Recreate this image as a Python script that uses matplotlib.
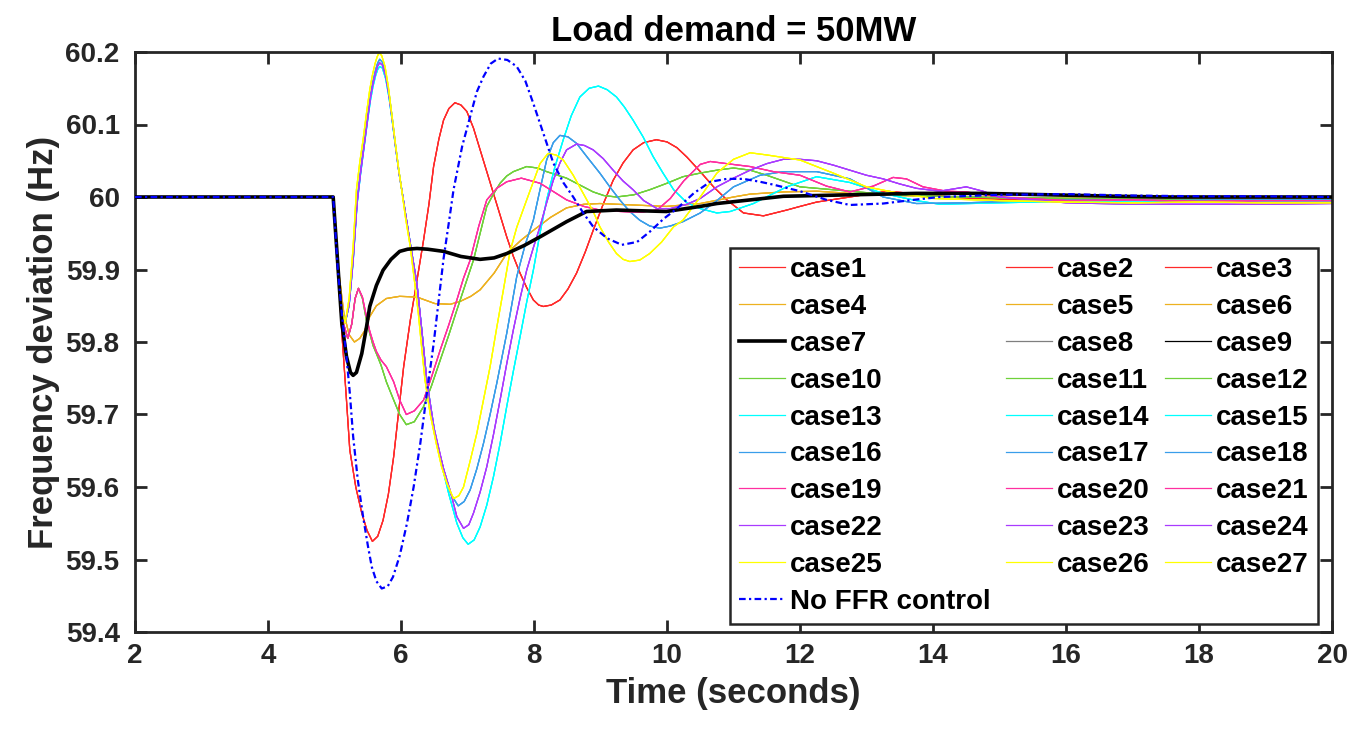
import matplotlib
matplotlib.use('Agg')
import matplotlib.pyplot as plt

plt.rcParams['font.family'] = ['Liberation Sans', 'DejaVu Sans']
plt.rcParams['font.weight'] = 'bold'

# ---- data (time in s, frequency in Hz) ----
t_red = [2.0, 4.98, 5.05, 5.12, 5.18, 5.23, 5.32, 5.41, 5.49, 5.57, 5.65, 5.73, 5.81, 5.89, 5.96,
         6.04, 6.14, 6.24, 6.34, 6.42, 6.49, 6.57, 6.64, 6.72, 6.81, 6.9, 6.99, 7.09, 7.19, 7.29,
         7.39, 7.49, 7.59, 7.69, 7.79, 7.89, 7.99, 8.07, 8.14, 8.26, 8.39, 8.51, 8.64, 8.77, 8.89,
         9.04, 9.19, 9.34, 9.49, 9.65, 9.84, 10.0, 10.15, 10.3, 10.5, 10.7, 10.9, 11.15, 11.45, 11.8,
         12.0, 12.25, 12.75, 13.3, 13.8, 14.5, 15.5, 16.5, 17.5, 18.5, 19.5, 20.0]
f_red = [60.0, 60.0, 59.9, 59.8, 59.72, 59.651, 59.6, 59.564, 59.54, 59.525, 59.532, 59.554, 59.59, 59.642, 59.70,
         59.766, 59.83, 59.885, 59.941, 59.99, 60.042, 60.08, 60.106, 60.122, 60.13, 60.127, 60.118, 60.095, 60.065, 60.035,
         60.005, 59.975, 59.945, 59.918, 59.895, 59.875, 59.858, 59.851, 59.849, 59.851, 59.858, 59.873, 59.895, 59.924, 59.954,
         59.99, 60.023, 60.047, 60.065, 60.075, 60.079, 60.076, 60.068, 60.055, 60.035, 60.014, 59.996, 59.978, 59.974, 59.982,
         59.987, 59.993, 60.0, 60.008, 60.004, 59.998, 59.996, 59.995, 59.996, 59.995, 59.994, 59.994]

t_orange = [2.0, 4.98, 5.06, 5.14, 5.22, 5.3, 5.38, 5.45, 5.53, 5.63, 5.78, 5.98, 6.24, 6.51, 6.74, 6.89,
            7.05, 7.19, 7.4, 7.59, 7.8, 7.99, 8.25, 8.49, 8.75, 8.99, 9.49, 9.99, 10.5, 11.0, 11.25,
            11.75, 12.25, 12.75, 13.5, 14.5, 15.5, 16.5, 17.5, 18.5, 19.5, 20.0]
f_orange = [60.0, 60.0, 59.9, 59.84, 59.81, 59.80, 59.805, 59.815, 59.835, 59.85, 59.86, 59.863, 59.862, 59.853, 59.852, 59.856,
            59.863, 59.872, 59.895, 59.922, 59.94, 59.954, 59.972, 59.985, 59.99, 59.991, 59.989, 59.987, 59.991, 60.0, 60.004,
            60.007, 60.008, 60.005, 60.002, 60.0, 59.999, 59.998, 59.997, 59.998, 59.997, 59.997]

t_black = [2.0, 4.98, 5.04, 5.11, 5.18, 5.24, 5.28, 5.33, 5.41, 5.48, 5.53, 5.63, 5.73, 5.85, 5.98, 6.1,
           6.24, 6.4, 6.64, 6.9, 7.19, 7.4, 7.59, 7.85, 8.09, 8.3, 8.49, 8.79, 9.24, 9.6, 9.99, 10.5,
           10.75, 11.25, 11.75, 12.75, 13.75, 14.75, 15.76, 16.76, 17.5, 18.5, 19.3, 20.0]
f_black = [60.0, 60.0, 59.92, 59.826, 59.78, 59.758, 59.754, 59.758, 59.784, 59.82, 59.849, 59.878, 59.899, 59.914, 59.925, 59.928,
           59.929, 59.928, 59.925, 59.918, 59.914, 59.916, 59.922, 59.933, 59.945, 59.956, 59.966, 59.98, 59.982, 59.981, 59.98, 59.987,
           59.991, 59.996, 60.001, 60.003, 60.005, 60.005, 60.003, 60.001, 60.0, 60.0, 60.0, 60.0]

t_green = [2.0, 4.98, 5.05, 5.12, 5.2, 5.26, 5.31, 5.36, 5.42, 5.48, 5.53, 5.58, 5.63, 5.7, 5.78, 5.89,
           5.98, 6.08, 6.2, 6.34, 6.46, 6.59, 6.72, 6.84, 6.97, 7.09, 7.19, 7.29, 7.39, 7.49, 7.59,
           7.69, 7.89, 8.05, 8.19, 8.49, 8.7, 8.89, 9.05, 9.24, 9.5, 9.74, 10.0, 10.24, 10.5, 10.75,
           11.0, 11.25, 11.5, 11.75, 12.0, 12.5, 13.0, 13.5, 14.0, 15.0, 16.0, 17.0, 18.0, 19.0, 20.0]
f_green = [60.0, 60.0, 59.9, 59.83, 59.805, 59.825, 59.86, 59.874, 59.86, 59.83, 59.812, 59.795, 59.784, 59.768, 59.745, 59.72,
           59.70, 59.686, 59.69, 59.711, 59.74, 59.775, 59.81, 59.844, 59.88, 59.913, 59.95, 59.987, 60.004, 60.019, 60.029,
           60.035, 60.042, 60.04, 60.035, 60.026, 60.016, 60.007, 60.002, 60.0, 60.003, 60.01, 60.019, 60.028, 60.033, 60.037,
           60.04, 60.037, 60.03, 60.022, 60.014, 60.01, 60.006, 60.003, 60.001, 59.999, 59.998, 59.997, 59.996, 59.996, 59.996]

t_cyan = [2.0, 4.98, 5.05, 5.1, 5.16, 5.22, 5.28, 5.34, 5.39, 5.44, 5.49, 5.54, 5.58, 5.62, 5.65, 5.68,
          5.72, 5.77, 5.82, 5.87, 5.92, 5.97, 6.02, 6.08, 6.15, 6.24, 6.32, 6.39, 6.5, 6.6, 6.72,
          6.84, 6.93, 7.01, 7.1, 7.19, 7.29, 7.39, 7.49, 7.59, 7.69, 7.79, 7.89, 7.99, 8.09, 8.19,
          8.31, 8.44, 8.56, 8.69, 8.83, 8.97, 9.1, 9.24, 9.36, 9.49, 9.64, 9.79, 9.94, 10.1, 10.3,
          10.5, 10.75, 10.95, 11.3, 11.8, 12.25, 12.75, 13.25, 13.75, 14.1, 15.0, 16.0, 17.0, 18.0, 19.0, 20.0]
f_cyan = [60.0, 60.0, 59.9, 59.85, 59.826, 59.85, 59.91, 59.99, 60.03, 60.065, 60.1, 60.133, 60.153, 60.168, 60.176, 60.18,
          60.178, 60.163, 60.137, 60.103, 60.067, 60.033, 60.005, 59.97, 59.93, 59.88, 59.81, 59.745, 59.68, 59.635, 59.59,
          59.55, 59.53, 59.521, 59.527, 59.545, 59.575, 59.614, 59.66, 59.711, 59.76, 59.807, 59.855, 59.899, 59.95, 59.996,
          60.04, 60.079, 60.112, 60.138, 60.15, 60.153, 60.148, 60.138, 60.124, 60.106, 60.083, 60.056, 60.033, 60.01, 59.992,
          59.984, 59.978, 59.98, 59.991, 60.014, 60.028, 60.02, 60.005, 59.995, 59.99, 59.992, 59.994, 59.993, 59.993, 59.994, 59.994]

t_lblue = [2.0, 4.98, 5.05, 5.1, 5.16, 5.22, 5.28, 5.34, 5.39, 5.44, 5.49, 5.54, 5.58, 5.62, 5.65, 5.68,
           5.72, 5.77, 5.82, 5.87, 5.92, 5.97, 6.02, 6.08, 6.15, 6.24, 6.32, 6.39, 6.49, 6.57, 6.64,
           6.75, 6.86, 6.95, 7.04, 7.14, 7.24, 7.34, 7.44, 7.59, 7.74, 7.87, 7.99, 8.09, 8.19, 8.29,
           8.39, 8.51, 8.64, 8.8, 8.99, 9.14, 9.29, 9.44, 9.59, 9.74, 9.89, 10.05, 10.24, 10.5, 10.75,
           11.0, 11.4, 11.75, 12.25, 12.75, 13.25, 13.75, 14.5, 15.5, 16.5, 17.5, 18.5, 19.5, 20.0]
f_lblue = [60.0, 60.0, 59.9, 59.85, 59.826, 59.852, 59.915, 59.995, 60.035, 60.07, 60.105, 60.14, 60.16, 60.176, 60.185, 60.19,
           60.186, 60.17, 60.143, 60.108, 60.07, 60.035, 60.005, 59.97, 59.93, 59.88, 59.81, 59.745, 59.68, 59.65, 59.625,
           59.59, 59.574, 59.58, 59.596, 59.625, 59.66, 59.70, 59.743, 59.812, 59.89, 59.935, 59.968, 60.01, 60.051, 60.075,
           60.085, 60.083, 60.074, 60.055, 60.033, 60.014, 59.996, 59.98, 59.968, 59.96, 59.957, 59.96, 59.966, 59.978, 59.995,
           60.014, 60.03, 60.035, 60.035, 60.025, 60.0, 59.991, 59.992, 59.995, 59.996, 59.995, 59.996, 59.996, 59.996]

t_pink = [2.0, 4.98, 5.05, 5.12, 5.2, 5.26, 5.31, 5.36, 5.42, 5.48, 5.53, 5.58, 5.63, 5.7, 5.78, 5.89,
          5.98, 6.08, 6.2, 6.34, 6.46, 6.59, 6.72, 6.84, 6.94, 7.04, 7.17, 7.29, 7.44, 7.59, 7.81,
          8.09, 8.3, 8.49, 8.75, 8.99, 9.3, 9.6, 9.85, 10.05, 10.25, 10.5, 10.65, 10.9, 11.25, 11.6,
          12.0, 12.4, 12.75, 13.1, 13.4, 13.6, 13.85, 14.2, 14.5, 15.0, 16.0, 17.0, 18.0, 19.0, 20.0]
f_pink = [60.0, 60.0, 59.9, 59.83, 59.805, 59.825, 59.86, 59.874, 59.862, 59.835, 59.815, 59.8, 59.787, 59.775, 59.766, 59.745,
          59.72, 59.70, 59.705, 59.72, 59.752, 59.789, 59.824, 59.858, 59.888, 59.913, 59.96, 59.996, 60.012, 60.021, 60.026,
          60.019, 60.007, 59.996, 59.987, 59.982, 59.98, 59.979, 59.982, 59.998, 60.022, 60.045, 60.049, 60.046, 60.042, 60.035,
          60.03, 60.015, 60.007, 60.015, 60.027, 60.025, 60.014, 60.008, 60.007, 60.0, 59.995, 59.996, 59.994, 59.995, 59.995]

t_purple = [2.0, 4.98, 5.05, 5.1, 5.16, 5.22, 5.28, 5.34, 5.39, 5.44, 5.49, 5.54, 5.58, 5.62, 5.65, 5.68,
            5.72, 5.77, 5.82, 5.87, 5.92, 5.97, 6.02, 6.08, 6.15, 6.24, 6.32, 6.39, 6.5, 6.64, 6.74,
            6.84, 6.94, 7.02, 7.09, 7.19, 7.29, 7.39, 7.49, 7.59, 7.69, 7.79, 7.89, 7.99, 8.09, 8.19,
            8.29, 8.39, 8.49, 8.64, 8.76, 8.89, 9.04, 9.19, 9.34, 9.49, 9.65, 9.85, 10.05, 10.3, 10.5,
            10.75, 11.0, 11.25, 11.5, 11.75, 12.0, 12.25, 12.5, 12.75, 13.0, 13.25, 13.5, 13.75, 14.1, 14.5,
            14.75, 15.0, 16.0, 17.0, 18.0, 19.0, 20.0]
f_purple = [60.0, 60.0, 59.9, 59.85, 59.826, 59.851, 59.912, 59.992, 60.032, 60.067, 60.102, 60.137, 60.157, 60.172, 60.181, 60.185,
            60.182, 60.167, 60.14, 60.105, 60.068, 60.033, 60.005, 59.97, 59.93, 59.88, 59.81, 59.745, 59.68, 59.625, 59.595,
            59.559, 59.543, 59.548, 59.564, 59.593, 59.628, 59.672, 59.72, 59.77, 59.817, 59.86, 59.899, 59.93, 59.959, 59.992,
            60.023, 60.047, 60.065, 60.073, 60.071, 60.065, 60.053, 60.037, 60.022, 60.01, 59.995, 59.984, 59.984, 59.99, 59.998,
            60.014, 60.026, 60.037, 60.046, 60.052, 60.052, 60.05, 60.044, 60.037, 60.03, 60.025, 60.018, 60.012, 60.008, 60.014,
            60.008, 60.0, 59.992, 59.99, 59.99, 59.99, 59.991]

t_yellow = [2.0, 4.98, 5.05, 5.1, 5.16, 5.22, 5.28, 5.33, 5.38, 5.43, 5.48, 5.53, 5.57, 5.61, 5.64, 5.67,
            5.71, 5.76, 5.81, 5.86, 5.91, 5.96, 6.01, 6.07, 6.14, 6.2, 6.26, 6.31, 6.36, 6.44, 6.53,
            6.61, 6.69, 6.79, 6.87, 6.94, 7.04, 7.14, 7.24, 7.34, 7.44, 7.54, 7.64, 7.74, 7.89, 8.09,
            8.21, 8.33, 8.44, 8.59, 8.74, 8.89, 8.99, 9.12, 9.24, 9.34, 9.44, 9.59, 9.74, 9.92, 10.1,
            10.24, 10.5, 10.75, 11.0, 11.25, 11.5, 12.0, 12.5, 13.0, 13.5, 14.0, 15.0, 16.0, 17.0, 18.0,
            19.0, 20.0]
f_yellow = [60.0, 60.0, 59.9, 59.85, 59.826, 59.86, 59.931, 60.01, 60.048, 60.079, 60.115, 60.148, 60.168, 60.184, 60.193, 60.199,
            60.195, 60.18, 60.152, 60.115, 60.078, 60.042, 60.01, 59.97, 59.931, 59.886, 59.84, 59.793, 59.748, 59.70, 59.66,
            59.628, 59.605, 59.584, 59.588, 59.6, 59.636, 59.674, 59.72, 59.766, 59.82, 59.872, 59.925, 59.958, 59.996, 60.046,
            60.06, 60.058, 60.051, 60.03, 60.005, 59.98, 59.959, 59.938, 59.922, 59.914, 59.911, 59.913, 59.922, 59.938, 59.959,
            59.968, 60.0, 60.033, 60.052, 60.061, 60.058, 60.051, 60.033, 60.014, 60.005, 59.998, 59.995, 59.993, 59.992, 59.993,
            59.992, 59.992]

t_noffr = [2.0, 4.98, 5.05, 5.12, 5.18, 5.23, 5.28, 5.35, 5.43, 5.5, 5.56, 5.63, 5.71, 5.8, 5.88, 5.98,
           6.09, 6.19, 6.29, 6.39, 6.49, 6.57, 6.64, 6.72, 6.79, 6.92, 7.04, 7.14, 7.24, 7.35, 7.46,
           7.6, 7.74, 7.87, 7.99, 8.14, 8.29, 8.44, 8.59, 8.74, 8.89, 9.1, 9.32, 9.55, 9.74, 9.95,
           10.15, 10.4, 10.65, 10.9, 11.15, 11.4, 11.6, 12.0, 12.4, 12.75, 13.25, 13.7, 14.1, 15.0, 16.0,
           17.0, 18.0, 19.0, 20.0]
f_noffr = [60.0, 60.0, 59.9, 59.83, 59.78, 59.73, 59.67, 59.61, 59.559, 59.52, 59.49, 59.47, 59.46, 59.463, 59.476, 59.505,
           59.55, 59.60, 59.66, 59.73, 59.797, 59.86, 59.915, 59.965, 60.01, 60.07, 60.111, 60.145, 60.166, 60.184, 60.191,
           60.189, 60.18, 60.16, 60.129, 60.088, 60.047, 60.02, 60.0, 59.978, 59.959, 59.943, 59.934, 59.938, 59.952, 59.97,
           59.984, 60.005, 60.021, 60.025, 60.025, 60.021, 60.017, 60.008, 59.996, 59.989, 59.991, 59.996, 60.0, 60.003, 60.004,
           60.002, 60.001, 60.001, 60.0]

labels = ['case%d' % i for i in range(1, 28)]

# case groups: three cases per colour (7/8/9 are black, grey, black)
groups = [
    (t_red, f_red, ['#FF2A2A'] * 3, [0.9] * 3),
    (t_orange, f_orange, ['#EDB120'] * 3, [0.9] * 3),
    (t_black, f_black, ['black', '#7F7F7F', 'black'], [2.6, 0.9, 0.9]),
    (t_green, f_green, ['#6FD13A'] * 3, [0.9] * 3),
    (t_cyan, f_cyan, ['#00FFFF'] * 3, [0.9] * 3),
    (t_lblue, f_lblue, ['#3A9EEA'] * 3, [0.9] * 3),
    (t_pink, f_pink, ['#FF2FA0'] * 3, [0.9] * 3),
    (t_purple, f_purple, ['#A93BFF'] * 3, [0.9] * 3),
    (t_yellow, f_yellow, ['#FFFF00'] * 3, [0.9] * 3),
]

fig = plt.figure(figsize=(13.52, 7.31), dpi=100)
ax = fig.add_axes([135 / 1352, 1 - 632 / 731, 1197 / 1352, 580 / 731])

lines = []
for t, f, cols, lws in groups:
    for c, lw in zip(cols, lws):
        z = 3 if lw > 2 else 2
        ln, = ax.plot(t, f, color=c, lw=lw, zorder=z)
        lines.append(ln)
# case7 (thick black) goes on top of the coloured cases
lines[6].set_zorder(4)

nf, = ax.plot(t_noffr, f_noffr, color='#0000FF', lw=1.6, dashes=(3, 1.5, 1, 1.5), zorder=5)

ax.set_xlim(2, 20)
ax.set_ylim(59.4, 60.2)
ax.set_xticks(range(2, 21, 2))
ax.set_yticks([59.4, 59.5, 59.6, 59.7, 59.8, 59.9, 60.0, 60.1, 60.2])
ax.set_yticklabels(['59.4', '59.5', '59.6', '59.7', '59.8', '59.9', '60', '60.1', '60.2'])

dark = '#262626'
for s in ax.spines.values():
    s.set_linewidth(2.0)
    s.set_color(dark)
ax.tick_params(direction='in', length=8.5, width=2.0, colors=dark, labelsize=20,
               top=True, right=True)
ax.tick_params(axis='y', pad=11)
ax.tick_params(axis='x', pad=8)
for lab in ax.get_xticklabels() + ax.get_yticklabels():
    lab.set_fontweight('bold')

ax.set_xlabel('Time (seconds)', fontsize=25, fontweight='bold', color=dark, labelpad=6)
ax.set_ylabel('Frequency deviation (Hz)', fontsize=25, fontweight='bold', color=dark, labelpad=4)
ax.set_title('Load demand = 50MW', fontsize=25, fontweight='bold', color='black', pad=8)

# legend filled row by row like the original (3 columns)
hand = [lines[i] for i in range(0, 27, 3)] + [nf] + [lines[i] for i in range(1, 27, 3)] + [lines[i] for i in range(2, 27, 3)]
labs = [labels[i] for i in range(0, 27, 3)] + ['No FFR control'] + [labels[i] for i in range(1, 27, 3)] + [labels[i] for i in range(2, 27, 3)]
leg = ax.legend(hand, labs, ncol=3, loc='upper left', bbox_to_anchor=(0.497, 0.662),
                borderaxespad=0, prop={'size': 20, 'weight': 'bold'}, handlelength=1.65,
                handletextpad=0.18, columnspacing=0.56, labelspacing=0.39, borderpad=0.33,
                fancybox=False, framealpha=1, edgecolor=dark)
leg.get_frame().set_linewidth(1.8)
leg.set_zorder(10)

fig.savefig('out.png', dpi=100)
